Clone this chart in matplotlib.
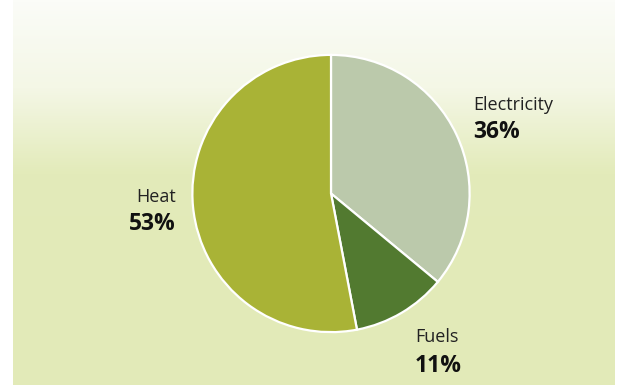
import numpy as np
import matplotlib.pyplot as plt
from matplotlib.colors import LinearSegmentedColormap

labels = ['Electricity', 'Fuels', 'Heat']
shares = [36, 11, 53]
colors = ['#bbc9ab', '#527a30', '#a9b336']

W, H = 629, 385
fig = plt.figure(figsize=(W / 100, H / 100), dpi=100)
fig.patch.set_facecolor('white')

# panel with vertical gradient background
bg = fig.add_axes([13 / W, 0, (615 - 13) / W, 1])
bg.set_axis_off()
grad_cmap = LinearSegmentedColormap.from_list('bg', ['#fbfcf8', '#f4f7e6', '#e3ebba', '#e2eab8'])
ramp = np.concatenate([np.linspace(0, 1, 260), np.ones(125)])[:, None]
bg.imshow(ramp, cmap=grad_cmap, aspect='auto', extent=[0, 1, 0, 1], origin='upper')

# pie
cx, cy, r = 331, 193.5, 140
ax = fig.add_axes([(cx - r) / W, (H - cy - r) / H, 2 * r / W, 2 * r / H])
ax.pie(shares, colors=colors, startangle=90, counterclock=False, radius=1,
       wedgeprops=dict(edgecolor='white', linewidth=1.6))
ax.set_xlim(-1.01, 1.01)
ax.set_ylim(-1.01, 1.01)
ax.set_aspect('equal')
ax.set_axis_off()

plt.rcParams['font.family'] = ['Open Sans', 'DejaVu Sans']

def label(x, y, name, value, ha, gap=28):
    fig.text(x / W, 1 - y / H, name, ha=ha, va='baseline', fontsize=13, color='#222222')
    fig.text(x / W, 1 - (y + gap) / H, f'{value}%', ha=ha, va='baseline',
             fontsize=16.5, fontweight='bold', color='#111111')

label(473, 110.5, labels[0], shares[0], 'left', 27)
label(415, 342, labels[1], shares[1], 'left', 29.5)
label(176, 202.5, labels[2], shares[2], 'right', 28)

fig.savefig('out.png', dpi=100)
